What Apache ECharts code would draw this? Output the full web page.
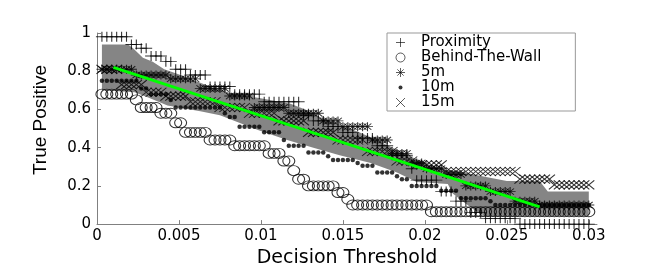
<!DOCTYPE html>
<html>
<head>
<meta charset="utf-8">
<script src="https://cdn.jsdelivr.net/npm/echarts@6/dist/echarts.min.js"></script>
<style>html,body{margin:0;padding:0;background:#fff}#c{width:664px;height:273px}</style>
</head>
<body>
<div id="c"></div>
<script>
// Decision thresholds (x values)
var thresholds = [
0.0003,0.0006,0.0009,0.0012,0.0015,0.0018,0.0021,0.0024,0.0027,0.0030,
0.0033,0.0036,0.0039,0.0042,0.0045,0.0048,0.0051,0.0054,0.0057,0.0060,
0.0063,0.0066,0.0069,0.0072,0.0075,0.0078,0.0081,0.0084,0.0087,0.0090,
0.0093,0.0096,0.0099,0.0102,0.0105,0.0108,0.0111,0.0114,0.0117,0.0120,
0.0123,0.0126,0.0129,0.0132,0.0135,0.0138,0.0141,0.0144,0.0147,0.0150,
0.0153,0.0156,0.0159,0.0162,0.0165,0.0168,0.0171,0.0174,0.0177,0.0180,
0.0183,0.0186,0.0189,0.0192,0.0195,0.0198,0.0201,0.0204,0.0207,0.0210,
0.0213,0.0216,0.0219,0.0222,0.0225,0.0228,0.0231,0.0234,0.0237,0.0240,
0.0243,0.0246,0.0249,0.0252,0.0255,0.0258,0.0261,0.0264,0.0267,0.0270,
0.0273,0.0276,0.0279,0.0282,0.0285,0.0288,0.0291,0.0294,0.0297,0.0300];

var proximity = [
0.98,0.98,0.98,0.98,0.98,0.98,0.94,0.94,0.92,0.92,
0.88,0.88,0.88,0.85,0.85,0.81,0.81,0.81,0.78,0.78,
0.78,0.78,0.72,0.72,0.72,0.72,0.72,0.68,0.68,0.68,
0.68,0.68,0.68,0.64,0.64,0.64,0.64,0.64,0.64,0.64,
0.64,0.57,0.57,0.54,0.54,0.54,0.51,0.51,0.51,0.48,
0.48,0.48,0.45,0.45,0.45,0.45,0.41,0.41,0.41,0.36,
0.36,0.36,0.36,0.29,0.23,0.23,0.23,0.23,0.23,0.17,
0.17,0.17,0.12,0.12,0.12,0.06,0.06,0.06,0.03,0.03,
0.03,0.03,0.03,0.03,0.03,0,0,0,0,0,
0,0,0,0,0,0,0,0,0,0];

var behindTheWall = [
0.68,0.68,0.68,0.68,0.68,0.68,0.68,0.65,0.61,0.61,
0.61,0.61,0.58,0.58,0.58,0.53,0.53,0.48,0.48,0.48,
0.48,0.48,0.44,0.44,0.44,0.44,0.44,0.41,0.41,0.41,
0.41,0.41,0.41,0.41,0.37,0.37,0.37,0.33,0.33,0.28,
0.235,0.235,0.20,0.20,0.20,0.20,0.20,0.20,0.165,0.165,
0.13,0.10,0.10,0.10,0.10,0.10,0.10,0.10,0.10,0.10,
0.10,0.10,0.10,0.10,0.10,0.10,0.10,0.065,0.065,0.065,
0.065,0.065,0.065,0.065,0.065,0.065,0.065,0.065,0.065,0.065,
0.065,0.065,0.065,0.065,0.065,0.065,0.065,0.065,0.065,0.065,
0.065,0.065,0.065,0.065,0.065,0.065,0.065,0.065,0.065,0.065];

var m5 = [
0.81,0.81,0.81,0.81,0.81,0.81,0.81,0.78,0.78,0.78,
0.78,0.78,0.78,0.78,0.76,0.76,0.76,0.76,0.76,0.76,
0.71,0.71,0.71,0.71,0.71,0.71,0.67,0.67,0.67,0.67,
0.67,0.61,0.61,0.61,0.61,0.61,0.61,0.61,0.58,0.58,
0.58,0.58,0.58,0.58,0.58,0.54,0.54,0.54,0.54,0.51,
0.51,0.51,0.51,0.51,0.51,0.44,0.44,0.44,0.44,0.37,
0.37,0.37,0.37,0.32,0.32,0.32,0.29,0.29,0.29,0.29,
0.26,0.26,0.26,0.26,0.20,0.20,0.20,0.20,0.20,0.17,
0.17,0.17,0.17,0.17,0.12,0.12,0.12,0.12,0.12,0.10,
0.10,0.10,0.10,0.10,0.10,0.10,0.10,0.10,0.10,0.10];

var m10 = [
0.75,0.75,0.75,0.75,0.75,0.75,0.75,0.75,0.71,0.71,
0.68,0.68,0.68,0.68,0.65,0.61,0.61,0.61,0.61,0.61,
0.61,0.61,0.61,0.61,0.61,0.58,0.56,0.56,0.51,0.51,
0.51,0.51,0.51,0.48,0.48,0.48,0.48,0.44,0.41,0.41,
0.41,0.41,0.375,0.375,0.375,0.375,0.355,0.335,0.335,0.335,
0.335,0.335,0.32,0.305,0.305,0.305,0.27,0.27,0.27,0.27,
0.25,0.235,0.235,0.20,0.20,0.20,0.20,0.20,0.20,0.175,
0.175,0.175,0.175,0.135,0.135,0.135,0.135,0.135,0.135,0.12,
0.10,0.10,0.10,0.10,0.10,0.10,0.10,0.10,0.10,0.10,
0.10,0.10,0.10,0.10,0.10,0.10,0.10,0.10,0.10,0.10];

var m15 = [
0.81,0.81,0.81,0.81,0.73,0.73,0.73,0.73,0.73,0.69,
0.69,0.69,0.69,0.67,0.67,0.67,0.67,0.67,0.64,0.64,
0.64,0.64,0.64,0.64,0.61,0.61,0.61,0.61,0.61,0.61,
0.58,0.58,0.58,0.58,0.58,0.58,0.54,0.54,0.54,0.54,
0.54,0.54,0.48,0.48,0.48,0.48,0.48,0.48,0.44,0.44,
0.44,0.44,0.44,0.44,0.38,0.38,0.38,0.38,0.38,0.38,
0.33,0.33,0.33,0.33,0.31,0.31,0.31,0.31,0.31,0.31,
0.275,0.275,0.275,0.275,0.275,0.275,0.275,0.275,0.275,0.275,
0.275,0.275,0.275,0.275,0.275,0.235,0.235,0.235,0.235,0.235,
0.235,0.235,0.205,0.205,0.205,0.205,0.205,0.205,0.205,0.205];

// gray band (upper and lower edges)
var bandUpperX = [0.0003,0.0019,0.0022,0.0028,0.0034,0.0041,0.0051,0.0063,0.0072,0.0084,0.0099,0.0118,0.0127,0.0136,0.0148,0.0160,0.0173,0.0185,0.0197,0.0209,0.0224,0.0235,0.0250,0.0270,0.0275,0.0300];
var bandUpperY = [0.94,0.94,0.92,0.87,0.85,0.81,0.78,0.74,0.71,0.68,0.66,0.63,0.60,0.56,0.52,0.48,0.43,0.38,0.33,0.29,0.27,0.25,0.225,0.225,0.17,0.17];
var bandLowerX = [0.0003,0.0023,0.0032,0.0043,0.0063,0.0075,0.0084,0.0099,0.0116,0.0132,0.0148,0.0167,0.0183,0.0195,0.0214,0.0217,0.0223,0.0230,0.0236,0.0300];
var bandLowerY = [0.70,0.69,0.66,0.62,0.59,0.57,0.54,0.49,0.44,0.40,0.36,0.32,0.27,0.22,0.21,0.16,0.12,0.075,0.045,0.045];

// fitted green line
var fitX = [0.001, 0.027];
var fitY = [0.82, 0.09];

var xTicks = [0, 0.005, 0.01, 0.015, 0.02, 0.025, 0.03];
var yTicks = [0, 0.2, 0.4, 0.6, 0.8, 1];
var seriesNames = ['Proximity', 'Behind-The-Wall', '5m', '10m', '15m'];

function pairs(xs, ys) { return xs.map(function (x, i) { return [x, ys[i]]; }); }

var PLUS = 'path://M0,5H10M5,0V10';
var ELLIPSE = 'path://M0,5A5,5 0 1 1 10,5A5,5 0 1 1 0,5Z';
var STAR = 'path://M0,5H10M5,0V10M1.5,1.5L8.5,8.5M8.5,1.5L1.5,8.5';
var CROSS = 'path://M0,0L10,10M10,0L0,10';
var DOT_ICON = 'path://M0,0M11,9M3.5,4.5A2,2 0 1 1 7.5,4.5A2,2 0 1 1 3.5,4.5Z';

var FONT = 'DejaVu Sans';
var strokeStyle = { color: 'rgba(0,0,0,0)', borderColor: '#000', borderWidth: 1 };

var chart = echarts.init(document.getElementById('c'), null, { renderer: 'canvas' });

var upper = pairs(bandUpperX, bandUpperY);
var lower = pairs(bandLowerX, bandLowerY);

chart.setOption({
  animation: false,
  backgroundColor: '#fff',
  grid: { left: 97, right: 67, top: 33, bottom: 48, containLabel: false },
  xAxis: {
    type: 'value', min: 0, max: 0.0305, interval: 0.005,
    name: 'Decision Threshold', nameLocation: 'middle', nameGap: 19,
    nameTextStyle: { fontFamily: FONT, fontSize: 19, color: '#000' },
    axisLine: { show: true, lineStyle: { color: '#808080', width: 1 } },
    axisTick: { show: true, inside: true, length: 4, lineStyle: { color: '#808080' }, customValues: xTicks },
    axisLabel: { fontFamily: FONT, fontSize: 15, color: '#000', margin: 5, customValues: xTicks,
      formatter: function (v) { return String(+v.toFixed(4)); } },
    splitLine: { show: false }
  },
  yAxis: {
    type: 'value', min: 0, max: 1, interval: 0.2,
    axisLine: { show: true, lineStyle: { color: '#808080', width: 1 } },
    axisTick: { show: true, inside: true, length: 4, lineStyle: { color: '#808080' }, customValues: yTicks },
    axisLabel: { fontFamily: FONT, fontSize: 15, color: '#000', margin: 6, customValues: yTicks,
      formatter: function (v) { return String(+v.toFixed(1)); } },
    splitLine: { show: false }
  },
  graphic: [{
    type: 'text', x: 41, y: 120, rotation: Math.PI / 2,
    style: { text: 'True Positive', fontFamily: 'Liberation Sans', fontSize: 19, fill: '#000', align: 'center', verticalAlign: 'middle' }
  }],
  legend: {
    orient: 'vertical', left: 387, top: 33,
    itemWidth: 11, itemHeight: 9, itemGap: 0,
    padding: [2, 34, 1, 8],
    borderColor: '#999', borderWidth: 1, backgroundColor: '#fff',
    itemStyle: { borderWidth: 0.8 },
    textStyle: { fontFamily: FONT, fontSize: 15, lineHeight: 14.3, color: '#000', padding: [0, 0, 0, 10] },
    selectedMode: false,
    data: [
      { name: seriesNames[0], icon: PLUS },
      { name: seriesNames[1], icon: ELLIPSE },
      { name: seriesNames[2], icon: STAR },
      { name: seriesNames[3], icon: DOT_ICON },
      { name: seriesNames[4], icon: CROSS }
    ]
  },
  series: [
    {
      type: 'custom', name: 'band', silent: true, z: 1,
      data: [[0, 0]],
      renderItem: function (params, api) {
        var pts = upper.map(function (p) { return api.coord(p); });
        for (var i = lower.length - 1; i >= 0; i--) pts.push(api.coord(lower[i]));
        return { type: 'polygon', shape: { points: pts }, style: { fill: '#858585' } };
      }
    },
    { type: 'scatter', name: seriesNames[1], z: 2, symbol: ELLIPSE, symbolSize: [12, 10], itemStyle: strokeStyle, silent: true, data: pairs(thresholds, behindTheWall) },
    { type: 'scatter', name: seriesNames[4], z: 2, symbol: CROSS, symbolSize: [11, 9], itemStyle: strokeStyle, silent: true, data: pairs(thresholds, m15) },
    { type: 'scatter', name: seriesNames[2], z: 2, symbol: STAR, symbolSize: [11, 9], itemStyle: strokeStyle, silent: true, data: pairs(thresholds, m5) },
    { type: 'scatter', name: seriesNames[3], z: 2, symbol: 'circle', symbolSize: 4.5, itemStyle: { color: '#000' }, silent: true, data: pairs(thresholds, m10) },
    { type: 'scatter', name: seriesNames[0], z: 2, symbol: PLUS, symbolSize: [12, 10], itemStyle: strokeStyle, silent: true, data: pairs(thresholds, proximity) },
    { type: 'line', name: 'fit', z: 5, symbol: 'none', silent: true, lineStyle: { color: '#00ff00', width: 3 }, data: pairs(fitX, fitY) }
  ]
});
</script>
</body>
</html>
